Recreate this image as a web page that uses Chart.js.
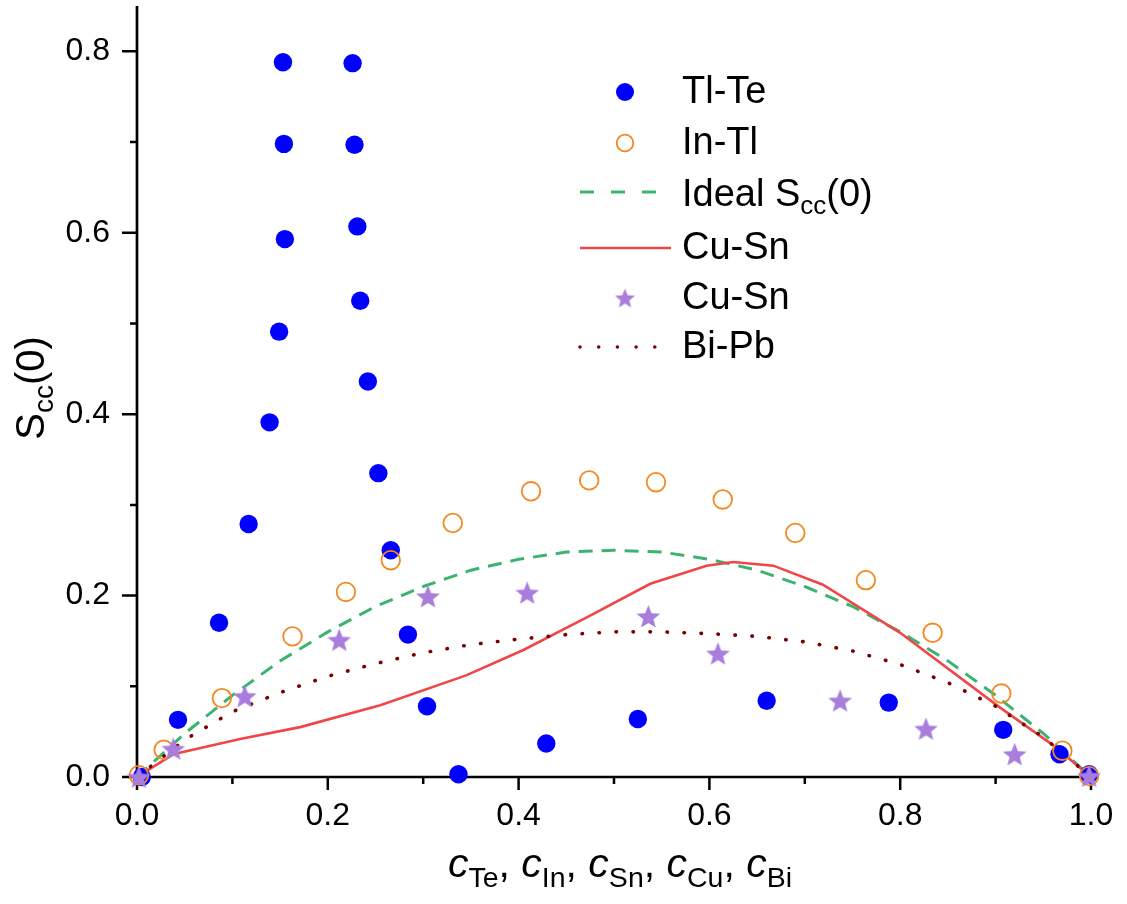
<!DOCTYPE html>
<html>
<head>
<meta charset="utf-8">
<script src="https://cdn.jsdelivr.net/npm/chart.js@4.4.0/dist/chart.umd.min.js"></script>
<style>
  html, body { margin: 0; padding: 0; background: #ffffff; }
  #wrap { width: 1127px; height: 904px; }
</style>
</head>
<body>
<div id="wrap"><canvas id="chart" width="1127" height="904"></canvas></div>
<script>
// ---- data: concentration c vs. concentration–concentration structure factor Scc(0) ----
const tlTeX = [0.005, 0.043, 0.086, 0.117, 0.139, 0.149, 0.155, 0.154, 0.153, 0.226, 0.228, 0.231, 0.234, 0.242, 0.253, 0.266, 0.284, 0.304, 0.337, 0.429, 0.525, 0.660, 0.788, 0.908, 0.967, 0.998];
const tlTeY = [0.000, 0.063, 0.170, 0.279, 0.391, 0.491, 0.593, 0.698, 0.788, 0.787, 0.697, 0.607, 0.525, 0.436, 0.335, 0.250, 0.157, 0.078, 0.003, 0.037, 0.064, 0.084, 0.082, 0.052, 0.025, 0.003];

const inTlX = [0.002, 0.028, 0.089, 0.163, 0.219, 0.266, 0.331, 0.413, 0.474, 0.544, 0.614, 0.690, 0.764, 0.834, 0.906, 0.970, 0.998];
const inTlY = [0.002, 0.030, 0.087, 0.155, 0.204, 0.239, 0.280, 0.315, 0.327, 0.325, 0.306, 0.269, 0.217, 0.159, 0.092, 0.029, 0.001];

const idealX = [0, 0.05, 0.10, 0.15, 0.20, 0.25, 0.30, 0.35, 0.40, 0.45, 0.50, 0.55, 0.60, 0.65, 0.70, 0.75, 0.80, 0.85, 0.90, 0.95, 1.00];
const idealY = [0, 0.048, 0.090, 0.128, 0.160, 0.188, 0.210, 0.228, 0.240, 0.248, 0.250, 0.248, 0.240, 0.228, 0.210, 0.188, 0.160, 0.128, 0.090, 0.048, 0];

const cuSnLineX = [0, 0.038, 0.108, 0.171, 0.255, 0.345, 0.405, 0.475, 0.538, 0.597, 0.625, 0.667, 0.719, 0.800, 0.904, 0.959, 1.000];
const cuSnLineY = [0, 0.025, 0.042, 0.055, 0.079, 0.112, 0.140, 0.178, 0.213, 0.233, 0.237, 0.233, 0.212, 0.159, 0.077, 0.036, 0];

const cuSnStarX = [0.002, 0.038, 0.113, 0.212, 0.305, 0.409, 0.536, 0.609, 0.737, 0.827, 0.920, 0.998];
const cuSnStarY = [0.000, 0.031, 0.089, 0.151, 0.199, 0.203, 0.177, 0.136, 0.084, 0.053, 0.025, 0.001];

const biPbX = [0, 0.05, 0.10, 0.15, 0.20, 0.25, 0.30, 0.35, 0.40, 0.45, 0.50, 0.55, 0.60, 0.65, 0.70, 0.75, 0.80, 0.85, 0.90, 0.95, 1.00];
const biPbY = [0, 0.041, 0.072, 0.093, 0.111, 0.125, 0.137, 0.146, 0.152, 0.157, 0.160, 0.160, 0.158, 0.155, 0.149, 0.139, 0.124, 0.104, 0.078, 0.044, 0];

const xTickValues = [0, 0.1, 0.2, 0.3, 0.4, 0.5, 0.6, 0.7, 0.8, 0.9, 1.0];
const yTickValues = [0, 0.1, 0.2, 0.3, 0.4, 0.5, 0.6, 0.7, 0.8];

const legendLabels = ['Tl-Te', 'In-Tl', 'Ideal S', 'Cu-Sn', 'Cu-Sn', 'Bi-Pb'];

// ---- styling ----
const FONT = "'Liberation Sans', Arial, Helvetica, sans-serif";
const C_BLUE = '#0000ff';
const C_ORANGE = '#f5871f';
const C_GREEN = '#3cb371';
const C_RED = '#ef4747';
const C_PURPLE = '#a97ddc';
const C_MAROON = '#7d0000';
const DASH_GREEN = [14, 9];
const DASH_DOTS = [0.5, 16.5];

function pts(xs, ys) { return xs.map((x, i) => ({ x: x, y: ys[i] })); }

function makeStar(outer, inner, color) {
  const s = Math.ceil(outer * 2 + 2);
  const cv = document.createElement('canvas');
  cv.width = s; cv.height = s;
  const g = cv.getContext('2d');
  g.fillStyle = color;
  g.beginPath();
  for (let k = 0; k < 10; k++) {
    const r = k % 2 ? inner : outer;
    const a = -Math.PI / 2 + k * Math.PI / 5;
    g.lineTo(s / 2 + r * Math.cos(a), s / 2 + r * Math.sin(a) + 1);
  }
  g.closePath();
  g.fill();
  return cv;
}
const starImg = makeStar(12.5, 5.4, C_PURPLE);
const starLegendImg = makeStar(10.5, 4.6, C_PURPLE);

const isMajor = v => Math.round(v * 10) % 2 === 0;

// draws a run of text pieces (with sub-scripts) starting at x
function richWidth(ctx, parts) {
  let w = 0;
  parts.forEach(p => { ctx.font = (p.italic ? 'italic ' : '') + p.size + 'px ' + FONT; w += ctx.measureText(p.t).width; });
  return w;
}
function drawRich(ctx, parts, x, y) {
  let cx = x;
  parts.forEach(p => {
    ctx.font = (p.italic ? 'italic ' : '') + p.size + 'px ' + FONT;
    ctx.fillText(p.t, cx, y + (p.dy || 0));
    cx += ctx.measureText(p.t).width;
  });
}

const frame = {
  id: 'frame',
  beforeDatasetsDraw(chart) {
    const ctx = chart.ctx, a = chart.chartArea;
    const xs = chart.scales.x, ys = chart.scales.y;
    ctx.save();
    ctx.strokeStyle = '#000';
    ctx.lineCap = 'butt';
    ctx.lineWidth = 2.7;
    ctx.beginPath();
    ctx.moveTo(a.left, a.top); ctx.lineTo(a.left, a.bottom + 1.3);
    ctx.moveTo(a.left - 1.3, a.bottom); ctx.lineTo(a.right + 1, a.bottom);
    ctx.stroke();
    ctx.lineWidth = 2.5;
    ctx.beginPath();
    xTickValues.forEach(v => {
      const px = xs.getPixelForValue(v);
      const len = isMajor(v) ? 13 : 7;
      ctx.moveTo(px, a.bottom); ctx.lineTo(px, a.bottom + len);
    });
    yTickValues.forEach(v => {
      const py = ys.getPixelForValue(v);
      const len = isMajor(v) ? 15 : 7;
      ctx.moveTo(a.left, py); ctx.lineTo(a.left - len, py);
    });
    ctx.stroke();
    ctx.restore();
  },
  afterDraw(chart) {
    const ctx = chart.ctx, a = chart.chartArea;
    ctx.save();
    ctx.fillStyle = '#000';
    ctx.textBaseline = 'alphabetic';

    // y-axis title: S_cc(0)
    const yParts = [
      { t: 'S', size: 40 },
      { t: 'cc', size: 28, dy: 9 },
      { t: '(0)', size: 40 }
    ];
    ctx.translate(44, 388);
    ctx.rotate(-Math.PI / 2);
    drawRich(ctx, yParts, -richWidth(ctx, yParts) / 2, 0);
    ctx.setTransform(1, 0, 0, 1, 0, 0);

    // x-axis title: c_Te, c_In, c_Sn, c_Cu, c_Bi
    const subs = ['Te', 'In', 'Sn', 'Cu', 'Bi'];
    const xParts = [];
    subs.forEach((s, i) => {
      xParts.push({ t: 'c', size: 41, italic: true });
      xParts.push({ t: s, size: 28.5, dy: 10 });
      if (i < subs.length - 1) xParts.push({ t: ', ', size: 41 });
    });
    const cxMid = (a.left + a.right) / 2;
    drawRich(ctx, xParts, cxMid - richWidth(ctx, xParts) / 2 + 6, 877);

    // legend
    const lx0 = 580, lx1 = 655, mx = 625, tx = 682;
    const rows = [92, 143, 192, 248, 298, 347];
    ctx.fillStyle = C_BLUE;
    ctx.beginPath(); ctx.arc(mx, rows[0], 9, 0, Math.PI * 2); ctx.fill();
    ctx.strokeStyle = C_ORANGE; ctx.lineWidth = 1.8;
    ctx.beginPath(); ctx.arc(mx, rows[1], 8.3, 0, Math.PI * 2); ctx.stroke();
    ctx.strokeStyle = C_GREEN; ctx.lineWidth = 3; ctx.setLineDash([14, 17]);
    ctx.beginPath(); ctx.moveTo(lx0, rows[2]); ctx.lineTo(lx1 + 2, rows[2]); ctx.stroke();
    ctx.setLineDash([]);
    ctx.strokeStyle = C_RED; ctx.lineWidth = 2.5;
    ctx.beginPath(); ctx.moveTo(lx0, rows[3]); ctx.lineTo(671, rows[3]); ctx.stroke();
    ctx.drawImage(starLegendImg, mx - starLegendImg.width / 2, rows[4] - starLegendImg.height / 2);
    ctx.fillStyle = C_MAROON;
    for (let k = 0; k < 5; k++) {
      ctx.beginPath(); ctx.arc(lx0 + k * 18.7, rows[5], 1.8, 0, Math.PI * 2); ctx.fill();
    }

    ctx.fillStyle = '#000';
    ctx.textBaseline = 'middle';
    ctx.font = '38px ' + FONT;
    ctx.fillText(legendLabels[0], tx, rows[0] + 1);
    ctx.fillText(legendLabels[1], tx, rows[1] + 1);
    ctx.textBaseline = 'alphabetic';
    drawRich(ctx, [
      { t: legendLabels[2], size: 38 },
      { t: 'cc', size: 26, dy: 8 },
      { t: '(0)', size: 38 }
    ], tx, rows[2] + 14);
    ctx.textBaseline = 'middle';
    ctx.font = '38px ' + FONT;
    ctx.fillText(legendLabels[3], tx, rows[3] + 1);
    ctx.fillText(legendLabels[4], tx, rows[4] + 1);
    ctx.fillText(legendLabels[5], tx, rows[5] + 1);
    ctx.restore();
  }
};

new Chart(document.getElementById('chart'), {
  type: 'scatter',
  data: {
    datasets: [
      {
        label: 'Cu-Sn', data: pts(cuSnStarX, cuSnStarY), order: 0,
        pointStyle: starImg, pointRadius: 12, showLine: false, clip: false
      },
      {
        label: 'In-Tl', data: pts(inTlX, inTlY), order: 1,
        pointStyle: 'circle', pointRadius: 9.3, pointBorderWidth: 1.8,
        pointBorderColor: C_ORANGE, pointBackgroundColor: 'rgba(0,0,0,0)', showLine: false, clip: false
      },
      {
        label: 'Tl-Te', data: pts(tlTeX, tlTeY), order: 2,
        pointStyle: 'circle', pointRadius: 9.2, pointBorderWidth: 0,
        pointBackgroundColor: C_BLUE, showLine: false, clip: false
      },
      {
        label: 'Bi-Pb', data: pts(biPbX, biPbY), order: 3,
        showLine: true, pointRadius: 0, borderColor: C_MAROON, borderWidth: 3.6,
        borderDash: DASH_DOTS, borderCapStyle: 'round', tension: 0, clip: false
      },
      {
        label: 'Cu-Sn', data: pts(cuSnLineX, cuSnLineY), order: 4,
        showLine: true, pointRadius: 0, borderColor: C_RED, borderWidth: 2.6,
        tension: 0, clip: false
      },
      {
        label: 'Ideal Scc(0)', data: pts(idealX, idealY), order: 5,
        showLine: true, pointRadius: 0, borderColor: C_GREEN, borderWidth: 3,
        borderDash: DASH_GREEN, tension: 0, clip: false
      }
    ]
  },
  options: {
    responsive: false,
    animation: false,
    devicePixelRatio: 1,
    layout: { autoPadding: false, padding: { top: 6, right: 36, left: 0, bottom: 0 } },
    plugins: { legend: { display: false }, tooltip: { enabled: false } },
    scales: {
      x: {
        type: 'linear', min: 0, max: 1.0,
        afterFit(scale) { scale.height = 127; scale.paddingLeft = 0; scale.paddingRight = 0; },
        afterBuildTicks(scale) { scale.ticks = xTickValues.map(v => ({ value: v })); },
        grid: { display: false, drawTicks: false },
        border: { display: false },
        ticks: {
          autoSkip: false, maxRotation: 0, padding: 20, color: '#000',
          font: { family: FONT, size: 32 },
          callback: v => (isMajor(v) ? v.toFixed(1) : '')
        }
      },
      y: {
        type: 'linear', min: 0, max: 0.85,
        afterFit(scale) { scale.width = 137; scale.paddingTop = 0; scale.paddingBottom = 0; },
        afterBuildTicks(scale) { scale.ticks = yTickValues.map(v => ({ value: v })); },
        grid: { display: false, drawTicks: false },
        border: { display: false },
        ticks: {
          autoSkip: false, padding: 27, color: '#000',
          font: { family: FONT, size: 32 },
          callback: v => (isMajor(v) ? v.toFixed(1) : '')
        }
      }
    }
  },
  plugins: [frame]
});
</script>
</body>
</html>
